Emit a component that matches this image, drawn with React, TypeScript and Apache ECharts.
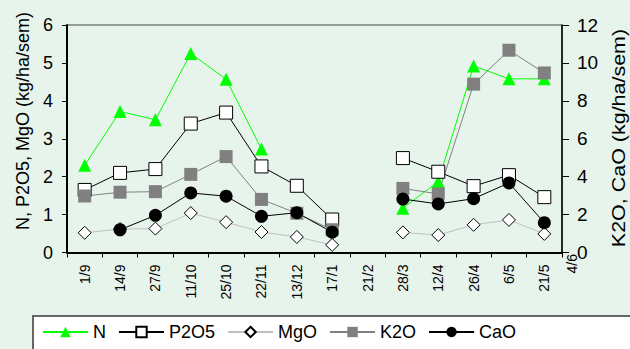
import React, { useEffect, useRef } from "react";
import * as echarts from "echarts";

const categories = ["1/9", "14/9", "27/9", "11/10", "25/10", "22/11", "13/12", "17/1", "21/2", "28/3", "12/4", "26/4", "6/5", "21/5"];
const endLabel = "4/6";
const nValues = [2.3, 3.72, 3.5, 5.25, 4.57, 2.73, null, null, null, 1.17, 1.87, 4.92, 4.58, 4.58];
const p2o5Values = [1.65, 2.1, 2.2, 3.4, 3.69, 2.27, 1.76, 0.87, null, 2.49, 2.13, 1.75, 2.04, 1.46];
const mgoValues = [0.52, 0.62, 0.63, 1.04, 0.8, 0.54, 0.41, 0.2, null, 0.53, 0.46, 0.73, 0.86, 0.49];
const k2oValues = [2.98, 3.18, 3.21, 4.12, 5.06, 2.8, 2.07, 1.2, null, 3.38, 3.09, 8.88, 10.67, 9.47];
const caoValues = [null, 1.2, 1.96, 3.14, 2.97, 1.91, 2.1, 1.07, null, 2.82, 2.56, 2.84, 3.67, 1.57];
const leftTitle = "N, P2O5, MgO (kg/ha/sem)";
const rightTitle = "K2O, CaO (kg/ha/sem)";

const FONT = 'Arial, "Liberation Sans", sans-serif';

export default function App() {
  const ref = useRef<HTMLDivElement>(null);
  useEffect(() => {
    if (!ref.current) return;
    const chart = echarts.init(ref.current, null, { renderer: "svg" });
    chart.setOption({
      animation: false,
      backgroundColor: "#E7F4EC",
      textStyle: { fontFamily: FONT, color: "#000" },
      grid: {
        left: 67,
        right: 68,
        top: 25,
        bottom: 96.5,
        show: true,
        borderColor: "#404040",
        borderWidth: 1,
        backgroundColor: "transparent",
      },
      legend: {
        left: 37,
        top: 318,
        itemWidth: 45,
        itemHeight: 13,
        itemGap: 12,
        textStyle: { fontSize: 18, fontFamily: FONT, color: "#000" },
        data: ["N", "P2O5", "MgO", "K2O", "CaO"],
      },
      graphic: [
        {
          type: "rect",
          z: 0,
          shape: { x: 33, y: 316, width: 640, height: 60 },
          style: { fill: "#FFFFFF", stroke: "#666666", lineWidth: 2 },
        },
        {
          type: "text",
          x: 23,
          y: 121,
          rotation: Math.PI / 2,
          style: { text: leftTitle, fontSize: 18, fontFamily: FONT, fill: "#000", align: "center", verticalAlign: "middle" },
        },
        {
          type: "text",
          x: 618,
          y: 138,
          rotation: Math.PI / 2,
          scaleX: 1.13,
          style: { text: rightTitle, fontSize: 19, fontFamily: FONT, fill: "#000", align: "center", verticalAlign: "middle" },
        },
        {
          type: "text",
          x: 572,
          y: 254,
          rotation: Math.PI / 2,
          style: { text: endLabel, fontSize: 14, fontFamily: FONT, fill: "#000", align: "right", verticalAlign: "middle" },
        },
      ],
      xAxis: {
        type: "category",
        data: categories,
        boundaryGap: true,
        axisLine: { lineStyle: { color: "#000", width: 2 } },
        axisTick: { show: true, interval: 0, length: 5, lineStyle: { color: "#000", width: 1 } },
        axisLabel: { interval: 0, rotate: 90, fontSize: 14, margin: 12, color: "#000", fontFamily: FONT },
        splitLine: { show: false },
      },
      yAxis: [
        {
          type: "value",
          min: 0,
          max: 6,
          interval: 1,
          axisLine: { show: true, lineStyle: { color: "#000", width: 2 } },
          axisTick: { show: true, length: 5, lineStyle: { color: "#000" } },
          axisLabel: { fontSize: 18, margin: 14, color: "#000", fontFamily: FONT },
          splitLine: { show: false },
        },
        {
          type: "value",
          position: "right",
          min: 0,
          max: 12,
          interval: 2,
          axisLine: { show: true, lineStyle: { color: "#000", width: 1.5 } },
          axisTick: { show: true, length: 7, lineStyle: { color: "#000" } },
          axisLabel: { fontSize: 19, margin: 15, color: "#000", fontFamily: FONT },
          splitLine: { show: false },
        },
      ],
      series: [
        {
          name: "N",
          type: "line",
          yAxisIndex: 0,
          data: nValues,
          symbol: "triangle",
          symbolSize: 13,
          showAllSymbol: true,
          connectNulls: false,
          lineStyle: { color: "#00FF00", width: 1 },
          itemStyle: { color: "#00FF00", borderWidth: 0 },
        },
        {
          name: "P2O5",
          type: "line",
          yAxisIndex: 0,
          data: p2o5Values,
          symbol: "rect",
          symbolSize: 13,
          showAllSymbol: true,
          lineStyle: { color: "#000", width: 1 },
          itemStyle: { color: "#FFFFFF", borderColor: "#000", borderWidth: 1 },
        },
        {
          name: "MgO",
          type: "line",
          yAxisIndex: 0,
          data: mgoValues,
          symbol: "diamond",
          symbolSize: 13,
          showAllSymbol: true,
          lineStyle: { color: "#C0C0C0", width: 1 },
          itemStyle: { color: "#FFFFFF", borderColor: "#000", borderWidth: 1 },
        },
        {
          name: "K2O",
          type: "line",
          yAxisIndex: 1,
          data: k2oValues,
          symbol: "rect",
          symbolSize: 13,
          showAllSymbol: true,
          lineStyle: { color: "#808080", width: 1 },
          itemStyle: { color: "#808080", borderWidth: 0 },
        },
        {
          name: "CaO",
          type: "line",
          yAxisIndex: 1,
          data: caoValues,
          symbol: "circle",
          symbolSize: 13,
          showAllSymbol: true,
          lineStyle: { color: "#000", width: 1 },
          itemStyle: { color: "#000", borderWidth: 0 },
        },
      ],
    });
    return () => chart.dispose();
  }, []);
  return <div ref={ref} style={{ position: "fixed", left: 0, top: 0, width: 630, height: 349 }} />;
}
